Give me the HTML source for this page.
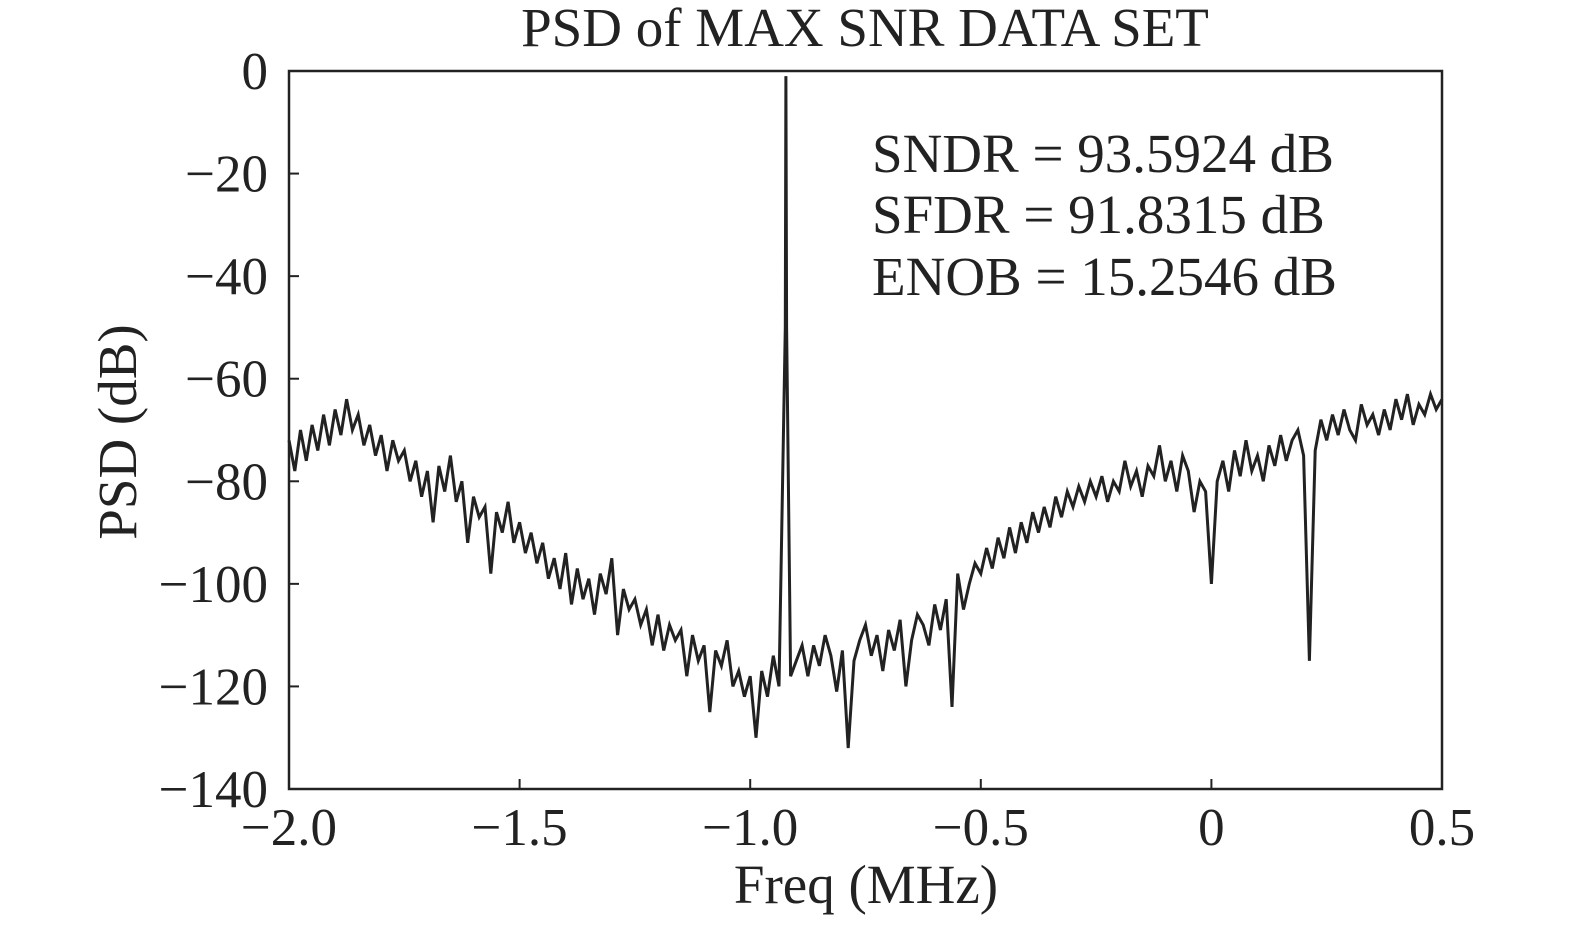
<!DOCTYPE html>
<html><head><meta charset="utf-8">
<style>
html,body{margin:0;padding:0;background:#fff;}
svg{display:block;font-family:"Liberation Serif",serif;}
</style></head>
<body>
<svg id="chart" width="1575" height="925" viewBox="0 0 1575 925" xmlns="http://www.w3.org/2000/svg">
<text x="865" y="46" font-size="55" text-anchor="middle" fill="#222">PSD of MAX SNR DATA SET</text>
<rect x="289" y="71" width="1153" height="718" fill="none" stroke="#222" stroke-width="2.5"/>
<g id="ticks"></g>
<path id="trace" fill="none" stroke="#222" stroke-width="3" stroke-linejoin="miter"/>
<g font-size="55" fill="#222">
<text x="872" y="172">SNDR = 93.5924 dB</text>
<text x="872" y="233">SFDR = 91.8315 dB</text>
<text x="872" y="295">ENOB = 15.2546 dB</text>
</g>
<text x="866" y="903" font-size="55" text-anchor="middle" fill="#222">Freq (MHz)</text>
<text transform="translate(136,432) rotate(-90)" font-size="55" text-anchor="middle" fill="#222">PSD (dB)</text>
</svg>
<script>
const xTicks=[-2.0,-1.5,-1.0,-0.5,0,0.5];
const xTickLabels=["\u22122.0","\u22121.5","\u22121.0","\u22120.5","0","0.5"];
const yTicks=[0,-20,-40,-60,-80,-100,-120,-140];
const yTickLabels=["0","\u221220","\u221240","\u221260","\u221280","\u2212100","\u2212120","\u2212140"];
const freqStart=-2.0;
const freqStep=0.0125;
const psdValues=[
-72,-78,-70,-76,-69,-74,-67,-73,-66,-71,
-64,-70,-67,-73,-69,-75,-71,-78,-72,-76,
-74,-80,-76,-83,-78,-88,-77,-82,-75,-84,
-80,-92,-83,-87,-85,-98,-86,-90,-84,-92,
-88,-94,-90,-96,-92,-99,-95,-101,-94,-104,
-97,-103,-99,-106,-98,-102,-95,-110,-101,-105,
-103,-108,-105,-112,-106,-113,-108,-111,-109,-118,
-110,-115,-112,-125,-113,-116,-111,-120,-117,-122,
-118,-130,-117,-122,-114,-120,-108,-118,-115,-112,
-118,-112,-116,-110,-114,-121,-113,-132,-115,-111,
-108,-114,-110,-117,-109,-113,-107,-120,-111,-106,
-108,-112,-104,-109,-103,-124,-98,-105,-100,-96,
-98,-93,-97,-91,-95,-89,-94,-88,-92,-86,
-90,-85,-89,-83,-87,-82,-85,-81,-84,-80,
-83,-79,-84,-80,-82,-76,-81,-78,-83,-77,
-79,-73,-80,-76,-82,-75,-78,-86,-80,-82,
-100,-80,-76,-82,-74,-79,-72,-78,-75,-80,
-73,-77,-71,-76,-72,-70,-75,-115,-74,-68,
-72,-67,-71,-66,-70,-72,-65,-69,-67,-71,
-66,-70,-64,-68,-63,-69,-65,-67,-63,-66,
-64];
const peakFreqs=[-0.924,-0.9225,-0.921];
const peakValues=[-50,-1,-50];

const X0=289,X1=1442,Y0=71,Y1=789;
const xScale=f=>X0+(f-(-2.0))/(0.5-(-2.0))*(X1-X0);
const yScale=v=>Y0+(0-v)/(0-(-140))*(Y1-Y0);
const NS="http://www.w3.org/2000/svg";
const g=document.getElementById('ticks');
xTicks.forEach((t,i)=>{
  const x=xScale(t);
  const l=document.createElementNS(NS,'line');
  
  
  l.setAttribute('x1',x);l.setAttribute('x2',x);l.setAttribute('y1',Y1);l.setAttribute('y2',Y1-10);
  l.setAttribute('stroke','#222');l.setAttribute('stroke-width','2');g.appendChild(l);
  const tx=document.createElementNS(NS,'text');
  
  
  tx.setAttribute('x',x);tx.setAttribute('y',845);tx.setAttribute('font-size','53');
  tx.setAttribute('text-anchor','middle');tx.setAttribute('fill','#222');
  tx.textContent=xTickLabels[i];g.appendChild(tx);
});
yTicks.forEach((t,i)=>{
  const y=yScale(t);
  const l=document.createElementNS(NS,'line');
  
  
  l.setAttribute('x1',X0);l.setAttribute('x2',X0+10);l.setAttribute('y1',y);l.setAttribute('y2',y);
  l.setAttribute('stroke','#222');l.setAttribute('stroke-width','2');g.appendChild(l);
  const tx=document.createElementNS(NS,'text');
  
  
  tx.setAttribute('x',268);tx.setAttribute('y',y+18);tx.setAttribute('font-size','53');
  tx.setAttribute('text-anchor','end');tx.setAttribute('fill','#222');
  tx.textContent=yTickLabels[i];g.appendChild(tx);
});
let pts=psdValues.map((v,i)=>[freqStart+i*freqStep,v]);
peakFreqs.forEach((f,i)=>pts.push([f,peakValues[i]]));
pts=pts.filter(p=>!(p[0]>-0.93&&p[0]<-0.915&&peakFreqs.indexOf(p[0])<0));
pts.sort((a,b)=>a[0]-b[0]);
document.getElementById('trace').setAttribute('d',pts.map((p,i)=>(i?'L':'M')+xScale(p[0]).toFixed(1)+' '+yScale(p[1]).toFixed(1)).join(' '));
</script>
</body></html>
